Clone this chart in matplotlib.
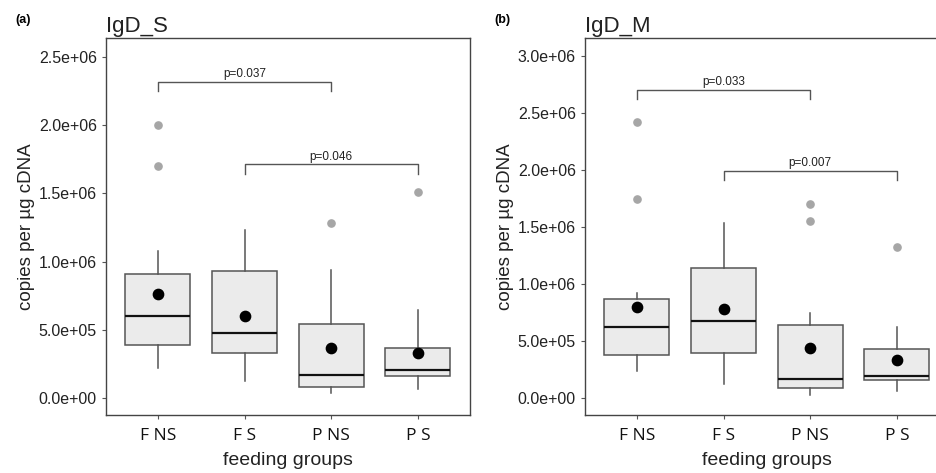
import numpy as np
import matplotlib.pyplot as plt

plt.rcParams['font.family'] = ['Liberation Sans', 'DejaVu Sans']

groups = ['F NS', 'F S', 'P NS', 'P S']

# IgD_S (panel a)
s_q1 = [0.385e6, 0.333e6, 0.083e6, 0.162e6]
s_med = [0.598e6, 0.475e6, 0.167e6, 0.206e6]
s_q3 = [0.910e6, 0.929e6, 0.542e6, 0.370e6]
s_whislo = [0.218e6, 0.127e6, 0.035e6, 0.064e6]
s_whishi = [1.080e6, 1.235e6, 0.936e6, 0.647e6]
s_mean = [0.762e6, 0.598e6, 0.370e6, 0.333e6]
s_fliers = [[2.0e6, 1.70e6], [], [1.28e6], [1.51e6]]
s_pvals = [(1, 3, 2.318e6, 'p=0.037'), (2, 4, 1.713e6, 'p=0.046')]

# IgD_M (panel b)
m_q1 = [0.379e6, 0.402e6, 0.095e6, 0.162e6]
m_med = [0.625e6, 0.680e6, 0.174e6, 0.200e6]
m_q3 = [0.873e6, 1.145e6, 0.642e6, 0.434e6]
m_whislo = [0.241e6, 0.124e6, 0.028e6, 0.063e6]
m_whishi = [0.923e6, 1.537e6, 0.753e6, 0.630e6]
m_mean = [0.805e6, 0.782e6, 0.443e6, 0.340e6]
m_fliers = [[2.42e6, 1.747e6], [], [1.706e6, 1.557e6], [1.332e6]]
m_pvals = [(1, 3, 2.706e6, 'p=0.033'), (2, 4, 1.998e6, 'p=0.007')]


def panel(ax, q1, med, q3, lo, hi, mean, fliers, pvals, yticks, ylim, tick_h, title, tag):
    stats = []
    for i in range(len(groups)):
        stats.append(dict(med=med[i], q1=q1[i], q3=q3[i], whislo=lo[i], whishi=hi[i],
                          fliers=fliers[i], label=groups[i]))
    pos = np.arange(1, len(groups) + 1)
    ax.bxp(stats, positions=pos, widths=0.75, patch_artist=True, showcaps=False,
           boxprops=dict(facecolor='#ebebeb', edgecolor='#555555', linewidth=1.1),
           whiskerprops=dict(color='#555555', linewidth=1.1),
           medianprops=dict(color='#111111', linewidth=1.6),
           flierprops=dict(marker='o', markerfacecolor='#a6a6a6', markeredgecolor='#a6a6a6',
                           markersize=5.2))
    ax.scatter(pos, mean, s=55, color='black', zorder=5)
    for x1, x2, y, txt in pvals:
        ax.plot([x1, x1, x2, x2], [y - tick_h, y, y, y - tick_h], color='#555555', lw=1)
        ax.text((x1 + x2) / 2, y + tick_h * 0.2, txt, ha='center', va='bottom', fontsize=8.5,
                color='#222222')
    ax.set_xlim(0.4, 4.6)
    ax.set_ylim(*ylim)
    ax.set_yticks(yticks)
    ax.set_yticklabels(['%.1e' % v for v in yticks], fontsize=11.5, color='#222222')
    ax.set_xticks(pos)
    ax.set_xticklabels(groups, fontsize=12.5, family='Open Sans', color='#111111')
    ax.tick_params(length=3, color='#555555', width=0.8)
    ax.tick_params(axis='x', pad=6)
    for sp in ax.spines.values():
        sp.set_color('#444444')
        sp.set_linewidth(1)
    ax.set_xlabel('feeding groups', fontsize=14, color='#222222', labelpad=6)
    ax.set_ylabel('copies per µg cDNA', fontsize=13.5, color='#222222', labelpad=3)
    ax.set_title(title, loc='left', fontsize=16, pad=4, color='#222222')
    ax.text(-0.25, 1.04, tag, transform=ax.transAxes, fontsize=9, fontweight='bold')


fig = plt.figure(figsize=(9.37, 4.73), dpi=100)
ax1 = fig.add_axes([0.1131, 0.1226, 0.3885, 0.797])
ax2 = fig.add_axes([0.6243, 0.1226, 0.3885, 0.797])

panel(ax1, s_q1, s_med, s_q3, s_whislo, s_whishi, s_mean, s_fliers, s_pvals,
      [0, 0.5e6, 1.0e6, 1.5e6, 2.0e6, 2.5e6], (-0.125e6, 2.64e6), 0.07e6, 'IgD_S', '(a)')
panel(ax2, m_q1, m_med, m_q3, m_whislo, m_whishi, m_mean, m_fliers, m_pvals,
      [0, 0.5e6, 1.0e6, 1.5e6, 2.0e6, 2.5e6, 3.0e6], (-0.145e6, 3.16e6), 0.08e6, 'IgD_M', '(b)')

fig.savefig('out.png', dpi=100)
